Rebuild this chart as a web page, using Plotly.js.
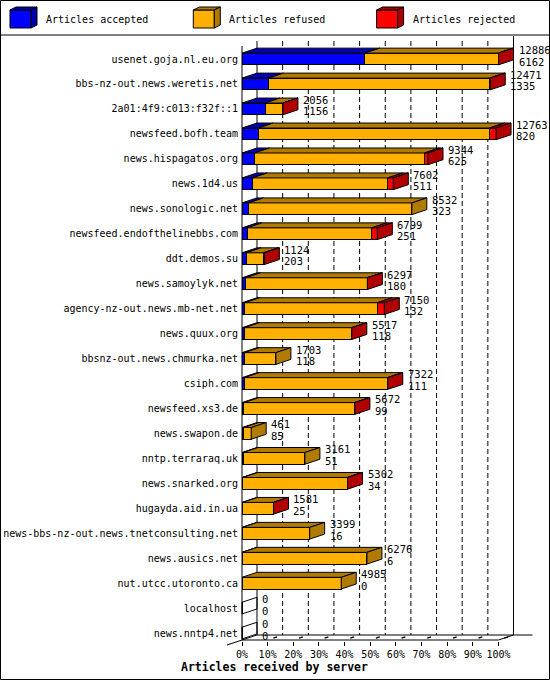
<!DOCTYPE html>
<html>
<head>
<meta charset="utf-8">
<script src="https://cdn.plot.ly/plotly-3.0.1.min.js"></script>
<style>
  body { margin: 0; background: #fff; }
  #chart { width: 550px; height: 680px; }
</style>
</head>
<body>
<div id="chart"></div>
<script>
// servers, sorted by accepted articles
const servers = ['usenet.goja.nl.eu.org', 'bbs-nz-out.news.weretis.net', '2a01:4f9:c013:f32f::1',
  'newsfeed.bofh.team', 'news.hispagatos.org', 'news.1d4.us', 'news.sonologic.net',
  'newsfeed.endofthelinebbs.com', 'ddt.demos.su', 'news.samoylyk.net', 'agency-nz-out.news.mb-net.net',
  'news.quux.org', 'bbsnz-out.news.chmurka.net', 'csiph.com', 'newsfeed.xs3.de', 'news.swapon.de',
  'nntp.terraraq.uk', 'news.snarked.org', 'hugayda.aid.in.ua', 'news-bbs-nz-out.news.tnetconsulting.net',
  'news.ausics.net', 'nut.utcc.utoronto.ca', 'localhost', 'news.nntp4.net'];
const totals = [12886, 12471, 2056, 12763, 9344, 7602, 8532, 6799, 1124, 6297, 7150, 5517,
  1703, 7322, 5672, 461, 3161, 5302, 1581, 3399, 6276, 4985, 0, 0];
const accepted = [6162, 1335, 1156, 820, 625, 511, 323, 251, 203, 180, 132, 118,
  118, 111, 99, 85, 51, 34, 25, 16, 6, 0, 0, 0];
const refused = [6709, 11096, 890, 11613, 8539, 6806, 8209, 6263, 861, 6107, 6653, 5389,
  1585, 7201, 5563, 376, 3110, 5258, 1546, 3383, 6270, 4985, 0, 0];
const rejected = [15, 40, 10, 330, 180, 285, 0, 285, 60, 10, 365, 10,
  0, 10, 10, 0, 0, 10, 10, 0, 0, 0, 0, 0];
const pctLabels = ['0%', '10%', '20%', '30%', '40%', '50%', '60%', '70%', '80%', '90%', '100%'];
const seriesNames = ['Articles accepted', 'Articles refused', 'Articles rejected'];

const frontCol = ['#0000ff', '#ffb000', '#ff0000'];
const shadeCol = ['#0000b0', '#b07b00', '#b00000'];
const MONO = 'DejaVu Sans Mono, monospace';

// pixel geometry of the picture
const L = 239, R = 535, T = 36, B = 641;
const X0PX = 242, ROW0 = 59, ROWPX = 24.96;
const maxTotal = Math.max(...totals);
const pxPer = 256.5 / maxTotal;
const DX = 15 / pxPer;        // depth, in articles
const DY = 5 / ROWPX;         // depth, in rows
const HALF = 5.85 / ROWPX;

const rows = servers.map((s, i) => i);
const toRow = py => (py - ROW0) / ROWPX;
const paperX = px => (px - L) / (R - L);
const paperY = py => (B - py) / (B - T);
const path = pts => 'M' + pts.map(p => p[0] + ',' + p[1]).join('L') + 'Z';

const seriesVals = [accepted, refused, rejected];
const traces = seriesVals.map((v, k) => ({
  type: 'bar', orientation: 'h', x: v, y: rows, name: seriesNames[k],
  width: 2 * HALF,
  marker: {color: frontCol[k], line: {color: '#000', width: 1}},
  showlegend: false, hoverinfo: 'skip'
}));

const shapes = [];
const annotations = [];
const blk = {color: '#000', width: 1};

// back wall grid, walls and floor
const yTopBack = toRow(41), yFloorBack = toRow(635), yFloorFront = toRow(640);
pctLabels.forEach((t, k) => {
  const g = k / 10 * maxTotal;
  if (k > 0 && k < 10) {
    shapes.push({type: 'line', xref: 'x', yref: 'y', x0: g + DX, x1: g + DX, y0: yTopBack, y1: yFloorBack,
      line: {color: '#000', width: 1, dash: '5px,3px'}, layer: 'below'});
  }
  if (k > 0) {
    shapes.push({type: 'line', xref: 'x', yref: 'y', x0: g, x1: g + DX, y0: yFloorFront, y1: yFloorBack,
      line: {color: '#000', width: 1.5, dash: '0px,6px,4px,20px'}, layer: 'below'});
  }
});
shapes.push({type: 'line', xref: 'x', yref: 'y', x0: DX, x1: DX, y0: yTopBack, y1: yFloorBack, line: blk, layer: 'below'});
shapes.push({type: 'line', xref: 'x', yref: 'y', x0: maxTotal + DX, x1: maxTotal + DX, y0: toRow(36), y1: yFloorBack, line: blk, layer: 'below'});
shapes.push({type: 'line', xref: 'x', yref: 'y', x0: 0, x1: 0, y0: toRow(46), y1: yFloorFront, line: blk, layer: 'below'});
shapes.push({type: 'line', xref: 'x', yref: 'y', x0: 0, x1: maxTotal, y0: yFloorFront, y1: yFloorFront, line: blk, layer: 'below'});
shapes.push({type: 'line', xref: 'x', yref: 'y', x0: DX, x1: maxTotal + DX + 19 / pxPer, y0: yFloorBack, y1: yFloorBack, line: blk, layer: 'below'});
shapes.push({type: 'line', xref: 'x', yref: 'y', x0: maxTotal, x1: maxTotal + DX, y0: yFloorFront, y1: yFloorBack, line: blk, layer: 'below'});
shapes.push({type: 'line', xref: 'paper', yref: 'paper', x0: paperX(227), x1: paperX(257), y0: paperY(645), y1: paperY(635), line: blk});

// 3d top and side faces of each bar
rows.forEach(i => {
  const yt = i - HALF, yb = i + HALF;
  let x0 = 0, last = -1;
  seriesVals.forEach((vals, k) => {
    const v = vals[i];
    if (v > 0) {
      const x1 = x0 + v;
      shapes.push({type: 'path', xref: 'x', yref: 'y', layer: 'above',
        path: path([[x0, yt], [x0 + DX, yt - DY], [x1 + DX, yt - DY], [x1, yt]]),
        fillcolor: shadeCol[k], line: blk});
      x0 = x1; last = k;
    }
  });
  shapes.push({type: 'path', xref: 'x', yref: 'y', layer: 'above',
    path: path([[x0, yt], [x0 + DX, yt - DY], [x0 + DX, yb - DY], [x0, yb]]),
    fillcolor: last >= 0 ? shadeCol[last] : 'rgba(0,0,0,0)', line: blk});

  const numFont = {family: MONO, size: 10.5, color: '#000'};
  annotations.push({x: totals[i] + DX, y: i, xref: 'x', yref: 'y', text: String(totals[i]),
    showarrow: false, xanchor: 'left', yanchor: 'middle', xshift: 3, yshift: 9, font: numFont});
  annotations.push({x: totals[i] + DX, y: i, xref: 'x', yref: 'y', text: String(accepted[i]),
    showarrow: false, xanchor: 'left', yanchor: 'middle', xshift: 3, yshift: -2.5, font: numFont});
});

// frame and legend box
shapes.push({type: 'rect', xref: 'paper', yref: 'paper', x0: paperX(0.5), x1: paperX(549.5),
  y0: paperY(0.5), y1: paperY(679.5), line: blk});
shapes.push({type: 'line', xref: 'paper', yref: 'paper', x0: paperX(0), x1: paperX(550),
  y0: paperY(35), y1: paperY(35), line: blk});
const legendX = [10, 193.3, 376.6];
seriesNames.forEach((n, k) => {
  const x = legendX[k];
  const p = pts => path(pts.map(q => [paperX(q[0]), paperY(q[1])]));
  shapes.push({type: 'path', xref: 'paper', yref: 'paper', fillcolor: frontCol[k], line: blk,
    path: p([[x, 10], [x + 21, 10], [x + 21, 28], [x, 28]])});
  shapes.push({type: 'path', xref: 'paper', yref: 'paper', fillcolor: shadeCol[k], line: blk,
    path: p([[x, 10], [x + 6, 7], [x + 27, 7], [x + 21, 10]])});
  shapes.push({type: 'path', xref: 'paper', yref: 'paper', fillcolor: shadeCol[k], line: blk,
    path: p([[x + 21, 10], [x + 27, 7], [x + 27, 25], [x + 21, 28]])});
  annotations.push({x: paperX(x + 34), y: paperY(20), xref: 'paper', yref: 'paper', text: n,
    showarrow: false, xanchor: 'left', yanchor: 'middle', font: {family: MONO, size: 10, color: '#000'}});
});

annotations.push({x: paperX(274), y: paperY(667), xref: 'paper', yref: 'paper',
  text: 'Articles received by server', showarrow: false, xanchor: 'center', yanchor: 'middle',
  font: {family: MONO, size: 11.5, color: '#000', weight: 'bold'}});

const layout = {
  width: 550, height: 680,
  margin: {l: L, r: 550 - R, t: T, b: 680 - B, pad: 0},
  paper_bgcolor: '#fff', plot_bgcolor: '#fff',
  barmode: 'stack', bargap: 0,
  showlegend: false,
  xaxis: {
    range: [(L - X0PX) / pxPer, (R - X0PX) / pxPer],
    tickvals: pctLabels.map((t, k) => k / 10 * maxTotal), ticktext: pctLabels,
    ticks: 'outside', ticklen: 4, tickcolor: '#000', tickwidth: 1,
    showgrid: false, zeroline: false, showline: false,
    tickfont: {family: MONO, size: 10, color: '#000'}
  },
  yaxis: {
    range: [toRow(B), toRow(T)],
    tickvals: rows, ticktext: servers, ticks: '',
    showgrid: false, zeroline: false, showline: false,
    tickfont: {family: MONO, size: 10, color: '#000'}
  },
  shapes: shapes,
  annotations: annotations
};

Plotly.newPlot('chart', traces, layout, {displayModeBar: false, staticPlot: true});
</script>
</body>
</html>
